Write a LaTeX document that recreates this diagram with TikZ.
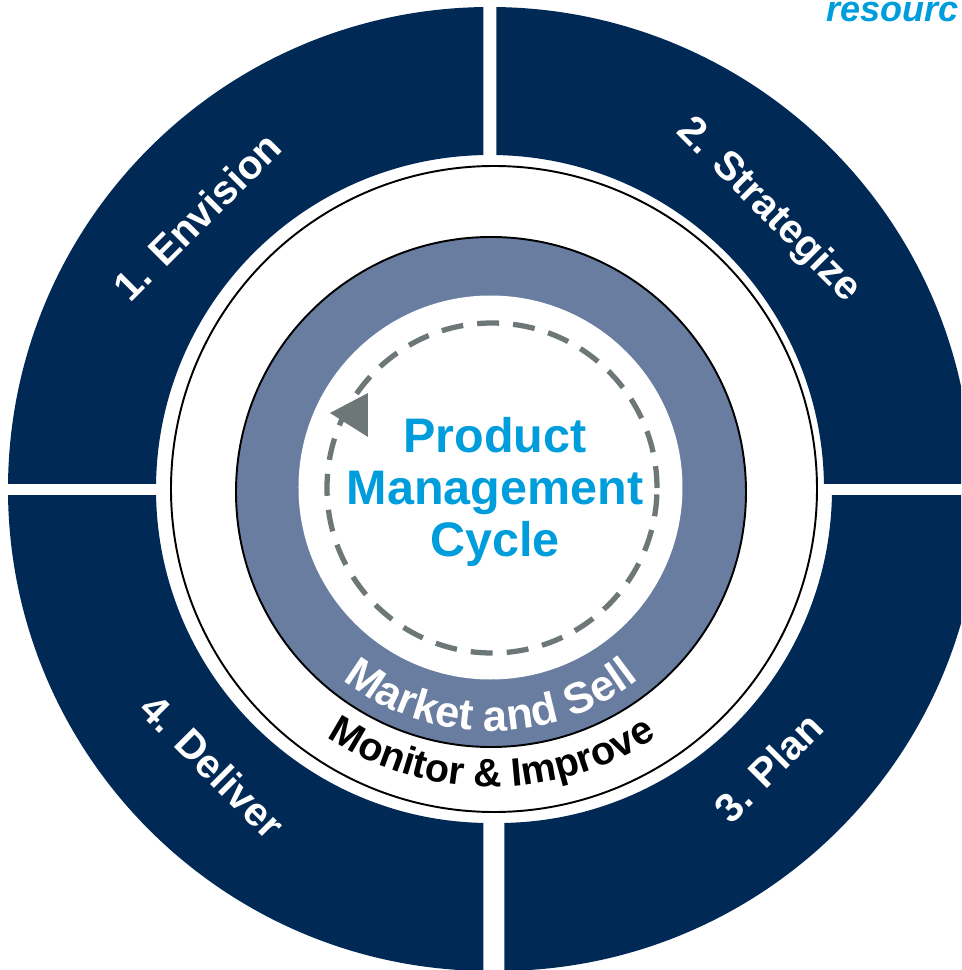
\documentclass[tikz,border=0pt]{standalone}
\usepackage{fontspec}
\setmainfont{Liberation Sans}
\usepackage{tikz}
\usetikzlibrary{decorations.text}
\definecolor{navy}{RGB}{0,41,86}
\definecolor{ringblue}{RGB}{104,125,160}
\definecolor{cyclecyan}{RGB}{0,157,220}
\definecolor{arrowgray}{RGB}{110,119,119}
\tikzset{
	phase/.style={text=white, font=\bfseries\fontsize{23}{25}\selectfont},
}
\begin{document}
\begin{tikzpicture}[scale=0.02]
			% 画布
			\clip (-490,-481) rectangle (471,489);
			% 外环四块
			\foreach \sx/\sy/\dx in {-1/1/0, 1/1/0, 1/-1/8, -1/-1/0}
			{
				\begin{scope}
					\clip ({\dx+\sx*6.5}, {\sy*6}) rectangle ({\dx+\sx*520}, {\sy*520});
					\fill[navy, even odd rule] (\dx,0) circle (482) (\dx,0) circle (334);
				\end{scope}
			}
			% 圆圈
			\draw[line width=1.1pt] (4,0) circle (323);
			\filldraw[fill=ringblue, draw=black, line width=1.1pt] (1,-3) circle (255);
			\fill[white] (0.5,1.5) circle (192);
			% 虚线循环和箭头
			\draw[arrowgray, line width=3pt, dash pattern=on 12.5pt off 8pt] (2,1) circle (165);
			\fill[arrowgray] (-160,76) -- (-122,96) -- (-122,52) -- cycle;
			% 文字
			\node[text=cyclecyan, align=center, font=\bfseries\fontsize{27.6}{29.6}\selectfont] (cycle) at (5,-3) {Product\\Management\\Cycle};
			\foreach \ang/\rad/\rot/\nm/\txt in {137/400/45/envision/1. Envision, 45/394/-45/strategize/2. Strategize, -45/394/45/plan/3. Plan, 225/392/-45/deliver/4. Deliver}
			\node[phase, rotate=\rot] (\nm) at (\ang:\rad) {\txt};
			\path[decorate, decoration={text along path, text align=center, text color=white,
				text={|\bfseries\fontsize{24.8}{26}\selectfont|Market and Sell}}] (1,-3) ++(200:239) arc (200:340:239);
			\path[decorate, decoration={text along path, text align=center, text color=black,
				text={|\bfseries\fontsize{22.5}{24}\selectfont|Monitor {\&} Improve}}] (2,0) ++(200:298) arc (200:340:298);
			\node[anchor=base west, inner sep=0pt, text=cyclecyan, font=\bfseries\itshape\fontsize{20.5}{22}\selectfont] (resourc) at (336,467) {resourc};
		\end{tikzpicture}
\end{document}
